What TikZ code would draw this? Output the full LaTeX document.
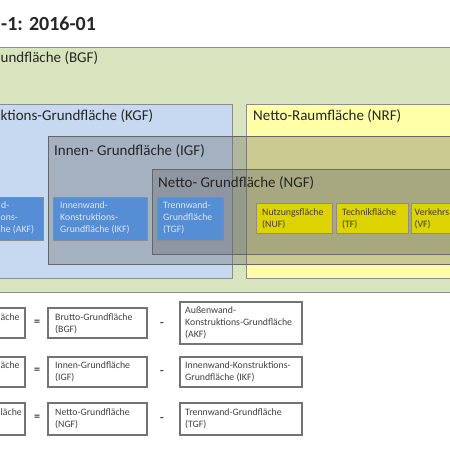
\documentclass[tikz,border=0pt]{standalone}
\usepackage{fontspec}
\setmainfont{Carlito}
\definecolor{bgfc}{HTML}{D7E4BD}
\definecolor{kgfc}{HTML}{C6D9F1}
\definecolor{nrfc}{HTML}{FFFFA8}
\definecolor{bluec}{HTML}{558ED5}
\definecolor{yelc}{HTML}{DDD300}
\definecolor{bordc}{HTML}{8C8C8C}
\definecolor{txtc}{HTML}{262626}
\definecolor{boxtxt}{HTML}{404040}
\definecolor{bluetxt}{HTML}{DCE6F2}
\begin{document}
\begin{tikzpicture}[x=1pt,y=-1pt,
  big/.style={font=\fontsize{15}{18}\selectfont, text=txtc, inner sep=0pt},
  small/.style={font=\fontsize{9.8}{12}\selectfont, inner sep=0pt, anchor=base west},
  area/.style={draw=bordc, line width=0.9pt},
  layer/.style={draw=black!60, line width=0.8pt, fill=gray!75!black, fill opacity=0.33},
  bluebox/.style={draw=bordc, line width=0.9pt, fill=bluec},
  yelbox/.style={draw=bordc, line width=0.9pt, fill=yelc},
  formbox/.style={draw=black!55, line width=1.1pt, fill=white},
  op/.style={font=\bfseries\fontsize{12}{14}\selectfont, text=boxtxt, inner sep=0pt}
]
\useasboundingbox (0,0) rectangle (450,450);
\clip (0,0) rectangle (450,450);
\fill[white] (0,0) rectangle (450,450);
% title
\node[font=\bfseries\fontsize{20}{24}\selectfont, text=txtc, anchor=base west, inner sep=0pt] (title) at (1,30) {-1: 2016-01};
% areas
\draw[area, fill=bgfc] (-20,47) rectangle (470,292);
\node[big, anchor=base west] (bgf) at (0.5,62) {undfläche (BGF)};
\draw[area, fill=kgfc] (-20,104) rectangle (232,278);
\node[big, anchor=base west] (kgf) at (0.5,120) {ktions-Grundfläche (KGF)};
\draw[area, fill=nrfc] (246,104) rectangle (470,278);
\node[big, anchor=base west] (nrf) at (253,120) {Netto-Raumfläche (NRF)};
\draw[layer] (48,136) rectangle (470,264);
\node[big, anchor=base west] (igf) at (54,155) {Innen- Grundfläche (IGF)};
\draw[layer] (152,169) rectangle (470,254);
\node[big, anchor=base west] (ngf) at (158,187) {Netto- Grundfläche (NGF)};
% blue boxes
\draw[bluebox] (-46,197) rectangle (43,240);
\node[small, text=bluetxt] (akf1) at (1,208) {d-};
\node[small, text=bluetxt] (akf2) at (0.5,220) {ons-};
\node[small, text=bluetxt] (akf3) at (0.5,232) {he (AKF)};
\draw[bluebox] (53,197) rectangle (147,240);
\node[small, text=bluetxt] (ikf) at (60,208) {\vtop{\hbox{Innenwand-}\hbox{Konstruktions-}\hbox{Grundfläche (IKF)}}};
\draw[bluebox] (157,197) rectangle (223,240);
\node[small, text=bluetxt] (tgf) at (163,208) {\vtop{\hbox{Trennwand-}\hbox{Grundfläche}\hbox{(TGF)}}};
% yellow boxes
\draw[yelbox] (256,203) rectangle (332,233);
\node[small, text=boxtxt] (nuf) at (262,215) {\vtop{\hbox{Nutzungsfläche}\hbox{(NUF)}}};
\draw[yelbox] (336,203) rectangle (408,233);
\node[small, text=boxtxt] (tf) at (342,215) {\vtop{\hbox{Technikfläche}\hbox{(TF)}}};
\draw[yelbox] (411,203) rectangle (490,233);
\node[small, text=boxtxt] (vf) at (414.5,215) {\vtop{\hbox{Verkehrs}\hbox{(VF)}}};
% formula row 1
\draw[formbox] (-120,308) rectangle (25,338);
\node[small, text=boxtxt] (r1a) at (0.5,320) {äche};
\node[op] (eq1) at (37,323) {=};
\draw[formbox] (48,308) rectangle (147,338);
\node[small, text=boxtxt] (r1b) at (55,320) {\vtop{\hbox{Brutto-Grundfläche}\hbox{(BGF)}}};
\node[op] (mi1) at (162,324) {-};
\draw[formbox] (180,302) rectangle (302,344);
\node[small, text=boxtxt] (r1c) at (185,313) {\vtop{\hbox{Außenwand-}\hbox{Konstruktions-Grundfläche}\hbox{(AKF)}}};
% formula row 2
\draw[formbox] (-120,357) rectangle (25,387);
\node[small, text=boxtxt] (r2a) at (0.5,368) {äche};
\node[op] (eq2) at (37,371) {=};
\draw[formbox] (48,357) rectangle (147,387);
\node[small, text=boxtxt] (r2b) at (55,368) {\vtop{\hbox{Innen-Grundfläche}\hbox{(IGF)}}};
\node[op] (mi2) at (162,372) {-};
\draw[formbox] (180,357) rectangle (302,387);
\node[small, text=boxtxt] (r2c) at (185,368) {\vtop{\hbox{Innenwand-Konstruktions-}\hbox{Grundfläche (IKF)}}};
% formula row 3
\draw[formbox] (-120,403) rectangle (25,435);
\node[small, text=boxtxt] (r3a) at (0.5,415) {läche};
\node[op] (eq3) at (37,418) {=};
\draw[formbox] (48,403) rectangle (147,435);
\node[small, text=boxtxt] (r3b) at (55,415) {\vtop{\hbox{Netto-Grundfläche}\hbox{(NGF)}}};
\node[op] (mi3) at (162,419) {-};
\draw[formbox] (180,403) rectangle (302,435);
\node[small, text=boxtxt] (r3c) at (185,415) {\vtop{\hbox{Trennwand-Grundfläche}\hbox{(TGF)}}};
\end{tikzpicture}
\end{document}
